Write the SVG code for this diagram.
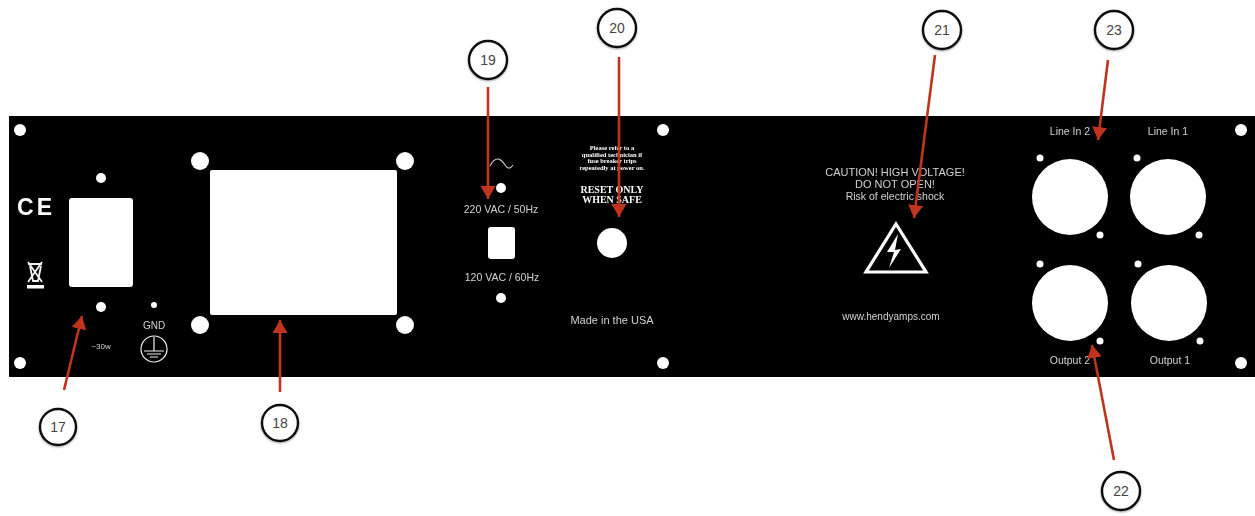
<svg xmlns="http://www.w3.org/2000/svg" width="1255" height="516" viewBox="0 0 1255 516">
<defs>
<filter id="soft" x="-2%" y="-2%" width="104%" height="104%"><feGaussianBlur stdDeviation="0.5"/></filter>
<filter id="shadow" x="-30%" y="-30%" width="160%" height="160%"><feDropShadow dx="0" dy="1" stdDeviation="1.2" flood-color="#000" flood-opacity="0.35"/></filter>
<marker id="head" markerUnits="userSpaceOnUse" markerWidth="16" markerHeight="16" refX="13" refY="7.5" orient="auto"><path d="M0,0 L13,7.5 L0,15 Z" fill="#c0341d"/></marker>
</defs>
<style>
text{font-family:"Liberation Sans",Arial,sans-serif;text-anchor:middle}
.p{fill:#d2d2d2;font-size:10.5px}
.s{fill:#fff;font-family:"Liberation Serif","Times New Roman",serif;font-weight:bold}
.h{fill:#fff}
.c{fill:none;stroke:#f2f2f2}
.conn{fill:none;stroke:#c0341d;stroke-width:2.6;marker-end:url(#head)}
.n circle{fill:#fff;stroke:#0c0c0c;stroke-width:2.4;filter:url(#shadow)}
.n text{fill:#444;font-size:14px}
</style>
<rect width="1255" height="516" fill="#fff"/>
<g id="panel" filter="url(#soft)">
<rect x="9" y="116" width="1246" height="261" fill="#000"/>
<g class="h">
<circle cx="20" cy="130" r="6"/><circle cx="20" cy="363" r="6"/>
<circle cx="663" cy="130" r="6"/><circle cx="663" cy="363" r="6"/>
<circle cx="1241" cy="130" r="6"/><circle cx="1241" cy="363" r="6"/>
</g>
<g id="power-inlet">
<rect class="h" x="69" y="198" width="64" height="89" rx="3"/>
<circle class="h" cx="101" cy="178" r="5"/><circle class="h" cx="101" cy="307" r="5"/>
<text x="36" y="215" fill="#fff" style="font-size:23px;letter-spacing:3px;font-weight:bold">CE</text>
<path class="c" stroke-width="1.8" d="M28,264 H42 M30,266 L33,281 H38 L41,266 M28,262 L42,282 M42,262 L28,282"/>
<rect class="h" x="27" y="285" width="17" height="3.500"/>
<text class="p" x="101" y="349" style="font-size:8px">~30w</text>
<circle class="h" cx="154" cy="305" r="3"/>
<text class="p" x="154" y="329" style="font-size:10px">GND</text>
<circle class="c" cx="154" cy="349" r="13" stroke-width="1.2"/>
<path class="c" stroke-width="1.2" d="M154,337 V351 M144,351 H164 M147,354 H161 M150,357 H158"/>
</g>
<g id="transformer" class="h">
<rect x="210" y="170" width="187" height="145" rx="2"/>
<circle cx="200" cy="161" r="9"/><circle cx="405" cy="161" r="9"/>
<circle cx="200" cy="325" r="9"/><circle cx="405" cy="325" r="9"/>
</g>
<g id="voltage-switch">
<path class="c" stroke-width="1.2" stroke-opacity="0.8" d="M490,166 C496,154 502,160 505,165 C508,170 511,168 513,165"/>
<circle class="h" cx="501" cy="188" r="5"/><circle class="h" cx="501" cy="298" r="5"/>
<rect class="h" x="488" y="227" width="27" height="32" rx="3"/>
<text class="p" x="501" y="213">220 VAC / 50Hz</text>
<text class="p" x="502" y="281">120 VAC / 60Hz</text>
</g>
<g id="reset">
<text class="s" x="612" y="150" style="font-size:6.5px">Please refer to a</text>
<text class="s" x="612" y="156.500" style="font-size:6.5px">qualified technician if</text>
<text class="s" x="612" y="163" style="font-size:6.500px">fuse breaker trips</text>
<text class="s" x="612" y="169.500" style="font-size:6.5px">repeatedly at power on.</text>
<text class="s" x="612" y="193" style="font-size:10px">RESET ONLY</text>
<text class="s" x="612" y="203" style="font-size:10px">WHEN SAFE</text>
<circle class="h" cx="612" cy="243" r="15"/>
<text class="p" x="612" y="324" style="font-size:11px">Made in the USA</text>
</g>
<g id="warning">
<text class="p" x="895" y="176" style="font-size:11px">CAUTION!  HIGH VOLTAGE!</text>
<text class="p" x="895" y="188" style="font-size:11px">DO NOT OPEN!</text>
<text class="p" x="895" y="200" style="font-size:10.500px">Risk of electric shock</text>
<path d="M896,224 L926,272 H866 Z" fill="none" stroke="#fff" stroke-width="3.2"/>
<path class="h" d="M898,234 L887,252 L894,252 L889,268 L901,249 L895,250 Z"/>
<text class="p" x="891" y="320" style="font-size:10px">www.hendyamps.com</text>
</g>
<g id="connectors-panel" class="h">
<circle cx="1070" cy="197" r="38"/><circle cx="1168" cy="197" r="38"/>
<circle cx="1070" cy="303" r="38"/><circle cx="1169" cy="303" r="38"/>
<circle cx="1040" cy="158" r="3.500"/><circle cx="1137" cy="158" r="3.500"/>
<circle cx="1100" cy="235" r="3.500"/><circle cx="1199" cy="235" r="3.500"/>
<circle cx="1040" cy="264" r="3.500"/><circle cx="1138" cy="264" r="3.500"/>
<circle cx="1100" cy="341" r="3.500"/><circle cx="1200" cy="341" r="3.500"/>
</g>
<text class="p" x="1070" y="135">Line In 2</text>
<text class="p" x="1168" y="135">Line In 1</text>
<text class="p" x="1070" y="364">Output 2</text>
<text class="p" x="1170" y="364">Output 1</text>
</g>
<g id="connectors">
<path class="conn" d="M64,390 L82,316"/>
<path class="conn" d="M280,392 L280,320"/>
<path class="conn" d="M488,87 L488,199"/>
<path class="conn" d="M619,57 L619,217"/>
<path class="conn" d="M935,55 L914,218"/>
<path class="conn" d="M1114,460 L1092,345"/>
<path class="conn" d="M1108,60 L1098,140"/>
</g>
<g id="n17" class="n"><circle cx="58" cy="427" r="18"/><text x="58" y="432">17</text></g>
<g id="n18" class="n"><circle cx="280" cy="423" r="18"/><text x="280" y="428">18</text></g>
<g id="n19" class="n"><circle cx="488" cy="60" r="19"/><text x="488" y="65">19</text></g>
<g id="n20" class="n"><circle cx="617" cy="28" r="19"/><text x="617" y="33">20</text></g>
<g id="n21" class="n"><circle cx="942" cy="30" r="19"/><text x="942" y="35">21</text></g>
<g id="n22" class="n"><circle cx="1121" cy="491" r="19"/><text x="1121" y="496">22</text></g>
<g id="n23" class="n"><circle cx="1114" cy="30" r="19"/><text x="1114" y="35">23</text></g>
</svg>
